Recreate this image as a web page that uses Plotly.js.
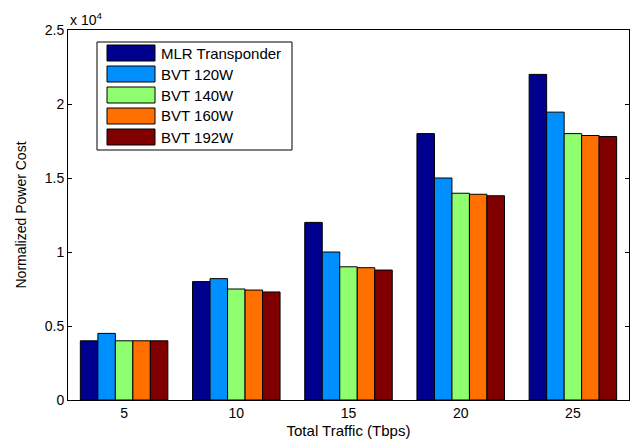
<!DOCTYPE html>
<html>
<head>
<meta charset="utf-8">
<script src="https://cdn.plot.ly/plotly-3.0.1.min.js"></script>
<style>html,body{margin:0;padding:0;background:#fff}#chart{width:632px;height:444px}</style>
</head>
<body>
<div id="chart"></div>
<script>
const categories = ['5', '10', '15', '20', '25'];
const seriesNames = ['MLR Transponder', 'BVT 120W', 'BVT 140W', 'BVT 160W', 'BVT 192W'];
const mlr    = [4000, 8000, 12000, 18000, 22000];
const bvt120 = [4500, 8200, 10000, 15000, 19450];
const bvt140 = [4000, 7500, 9000, 13970, 18000];
const bvt160 = [4000, 7430, 8940, 13900, 17870];
const bvt192 = [4000, 7300, 8780, 13800, 17800];
const yTickVals = [0, 5000, 10000, 15000, 20000, 25000];
const yTickText = ['0', '0.5', '1', '1.5', '2', '2.5'];

const seriesValues = [mlr, bvt120, bvt140, bvt160, bvt192];
const colors = ['#00008F', '#008FFF', '#8FFF70', '#FF7000', '#800000'];
const font = 'Arial, "Liberation Sans", sans-serif';

const traces = seriesValues.map((vals, i) => ({
  type: 'bar', x: categories, y: vals, name: seriesNames[i],
  marker: {color: colors[i], line: {color: '#000', width: 1}},
  showlegend: false, hoverinfo: 'x+y'
}));

// plot area in pixels: l=68, t=30, w=561, h=370
const L = 68, T = 30, W = 561, H = 370;
const px = x => (x - L) / W;
const py = y => (T + H - y) / H;

const shapes = [{
  type: 'rect', xref: 'paper', yref: 'paper',
  x0: px(97), x1: px(292), y0: py(150), y1: py(42),
  line: {color: '#000', width: 1}, fillcolor: '#fff', layer: 'above'
}];
const annotations = [{
  xref: 'paper', yref: 'paper', x: 0, y: 1, xanchor: 'left', yanchor: 'bottom',
  text: 'x 10<sup>4</sup>', showarrow: false, font: {family: font, size: 14, color: '#000'}
}];
seriesNames.forEach((n, i) => {
  const top = 45 + i * 21;
  shapes.push({
    type: 'rect', xref: 'paper', yref: 'paper',
    x0: px(107), x1: px(155), y0: py(top + 16), y1: py(top),
    line: {color: '#000', width: 1}, fillcolor: colors[i], layer: 'above'
  });
  annotations.push({
    xref: 'paper', yref: 'paper', x: px(159), y: py(top + 8),
    xanchor: 'left', yanchor: 'middle', text: n, showarrow: false,
    font: {family: font, size: 15, color: '#000'}
  });
});

const layout = {
  width: 632, height: 444,
  margin: {l: L, r: 632 - L - W, t: T, b: 444 - T - H},
  paper_bgcolor: '#fff', plot_bgcolor: '#fff',
  font: {family: font, size: 14, color: '#000'},
  barmode: 'group', bargap: 0.22, bargroupgap: 0,
  xaxis: {
    type: 'category', showline: true, linecolor: '#000', linewidth: 1, mirror: true,
    ticks: '', showgrid: false, zeroline: false,
    tickfont: {family: font, size: 14, color: '#000'},
    title: {text: 'Total Traffic (Tbps)', font: {family: font, size: 15, color: '#000'}, standoff: 5}
  },
  yaxis: {
    range: [0, 25000], tickvals: yTickVals, ticktext: yTickText,
    showline: true, linecolor: '#000', linewidth: 1, mirror: 'ticks',
    ticks: 'inside', ticklen: 4, tickcolor: '#000', showgrid: false, zeroline: false,
    tickfont: {family: font, size: 14, color: '#000'},
    title: {text: 'Normalized Power Cost', font: {family: font, size: 14, color: '#000'}, standoff: 14}
  },
  shapes: shapes, annotations: annotations
};

Plotly.newPlot('chart', traces, layout, {displayModeBar: false, staticPlot: true});
</script>
</body>
</html>
